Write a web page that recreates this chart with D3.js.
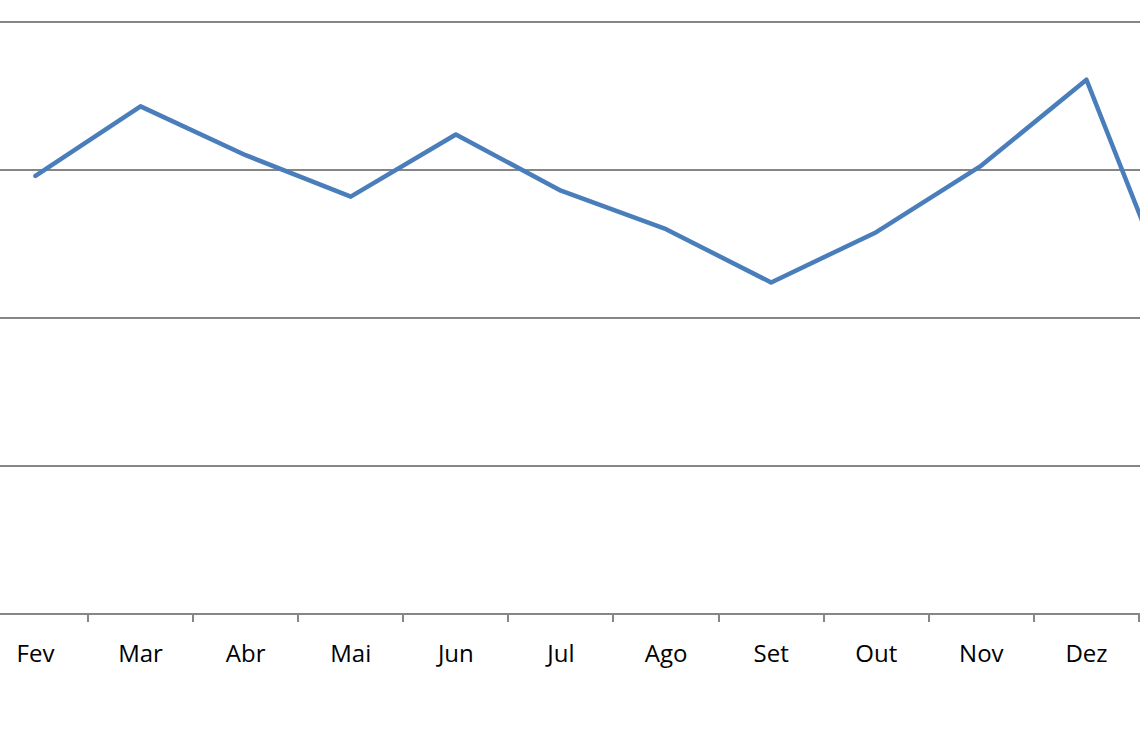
<!DOCTYPE html>
<html><head><meta charset="utf-8">
<script src="https://cdn.jsdelivr.net/npm/d3@7"></script>
<style>body{margin:0;background:#fff;overflow:hidden}svg{display:block}</style>
</head><body>
<svg id="c" width="1140" height="742"></svg>
<script>
const categories = ["Fev","Mar","Abr","Mai","Jun","Jul","Ago","Set","Out","Nov","Dez","Jan"];
const values = [29.6, 34.3, 31.0, 28.2, 32.4, 28.6, 26.0, 22.4, 25.8, 30.3, 36.1, 18.1];
const yTicks = [0, 10, 20, 30, 40];

const W = 1140;
const svg = d3.select("#c");
const step = 105.1;
const x0 = 88 - step;
const x = d3.scaleBand().domain(categories).range([x0, x0 + step * categories.length]).paddingInner(0).paddingOuter(0);
const y = d3.scaleLinear().domain([0, 40]).range([614, 22]);

// gridlines
svg.append("g").selectAll("line").data(yTicks.filter(d => d > 0)).join("line")
  .attr("x1", 0).attr("x2", W)
  .attr("y1", d => Math.round(y(d))).attr("y2", d => Math.round(y(d)))
  .attr("stroke", "#868686").attr("stroke-width", 2);

// x axis (labels only for categories whose centre lies inside the visible area)
const visible = categories.filter(c => x(c) + x.bandwidth() / 2 < W);
const xAxis = d3.axisBottom(x).tickValues(visible).tickSize(0).tickPadding(0);
const ax = svg.append("g").attr("transform", `translate(0,${Math.round(y(0))})`).call(xAxis);
ax.select(".domain").remove();
ax.selectAll("text").attr("font-family", "'Open Sans', 'Liberation Sans', sans-serif")
  .attr("font-size", 24).attr("fill", "#000").attr("dy", null).attr("y", 48);
svg.append("line").attr("x1", 0).attr("x2", W).attr("y1", y(0)).attr("y2", y(0))
  .attr("stroke", "#868686").attr("stroke-width", 2);
const bounds = categories.map(c => x(c)).concat([x(categories[categories.length-1]) + x.bandwidth()]);
svg.append("g").selectAll("line").data(bounds).join("line")
  .attr("x1", d => Math.round(d)).attr("x2", d => Math.round(d))
  .attr("y1", y(0)).attr("y2", y(0) + 8)
  .attr("stroke", "#868686").attr("stroke-width", 2);

// line
const line = d3.line().x((d, i) => x(categories[i]) + x.bandwidth() / 2).y(d => y(d));
svg.append("path").datum(values).attr("d", line)
  .attr("fill", "none").attr("stroke", "#4a7ebb").attr("stroke-width", 4.5)
  .attr("stroke-linejoin", "round").attr("stroke-linecap", "round");
</script>
</body></html>
